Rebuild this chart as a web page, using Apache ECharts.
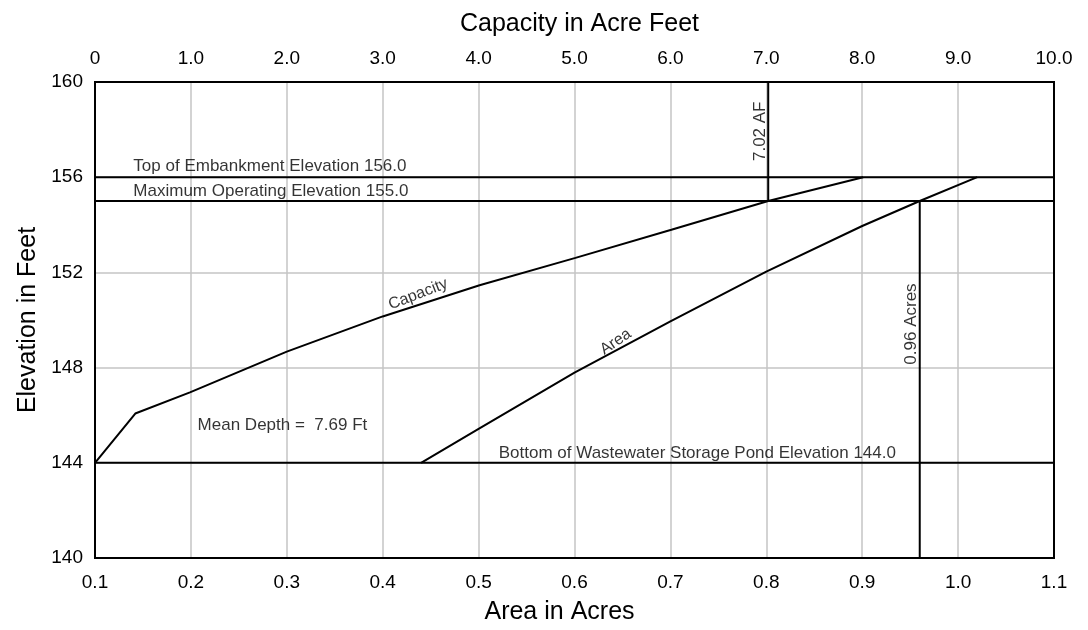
<!DOCTYPE html>
<html>
<head>
<meta charset="utf-8">
<script src="https://cdn.jsdelivr.net/npm/echarts@6/dist/echarts.min.js"></script>
<style>
  html, body { margin: 0; padding: 0; background: #fff; }
  #chart { width: 1088px; height: 630px; }
</style>
</head>
<body>
<div id="chart"></div>
<script>
// ---- Data ----
// Capacity curve (top axis, acre-feet) vs. elevation (ft)
const capacityElev = [144, 146.07, 146.96, 148.67, 150.15, 151.46, 152.61, 153.79, 155, 156];
const capacityAF   = [0,   0.42,   0.99,   2.0,    3.0,    4.01,   5.01,   6.01,   7.02, 8.01];
// Area curve (bottom axis, acres) vs. elevation (ft)
const areaElev  = [144,  145.43, 147.79, 149.94, 152.03, 153.95, 155,  156];
const areaAcres = [0.44, 0.5,    0.6,    0.7,    0.8,    0.9,    0.96, 1.02];
// Reference levels
const topEmbankmentElev = 156.0;
const maxOperatingElev = 155.0;
const pondBottomElev = 144.0;
const capacityAtMaxOp = 7.02;  // AF
const areaAtMaxOp = 0.96;      // acres
const meanDepth = 7.69;        // ft
// Axis ranges / ticks
const areaMin = 0.1, areaMax = 1.1, areaStep = 0.1;
const capMin = 0, capMax = 10, capStep = 1;
const elevMin = 140, elevMax = 160, elevStep = 4;

const FONT = '"Liberation Sans", Arial, Helvetica, sans-serif';

const pairs = (xs, ys) => xs.map((x, i) => [x, ys[i]]);
const blackLine = { color: '#000', width: 2 };

const chart = echarts.init(document.getElementById('chart'), null, { renderer: 'canvas' });

const noteStyle = { show: true, color: '#000', fontFamily: FONT, fontSize: 17 };

chart.setOption({
  animation: false,
  backgroundColor: '#fff',
  grid: {
    left: 95, right: 34, top: 82, bottom: 68,
    show: true, borderColor: '#000', borderWidth: 2, backgroundColor: 'transparent',
    z: 10
  },
  xAxis: [
    {
      type: 'value', position: 'bottom',
      min: areaMin, max: areaMax, interval: areaStep,
      name: 'Area in Acres', nameLocation: 'middle', nameGap: 42,
      nameTextStyle: { color: '#000', fontFamily: FONT, fontSize: 25, padding: [0, 30, 0, 0] },
      axisLine: { show: false }, axisTick: { show: false },
      axisLabel: { color: '#000', fontFamily: FONT, fontSize: 19, margin: 15,
        formatter: v => v.toFixed(1) },
      splitLine: { show: true, showMinLine: false, showMaxLine: false,
        lineStyle: { color: '#c4c4c4', width: 1.5 } }
    },
    {
      type: 'value', position: 'top',
      min: capMin, max: capMax, interval: capStep,
      name: 'Capacity in Acre Feet', nameLocation: 'middle', nameGap: 45,
      nameTextStyle: { color: '#000', fontFamily: FONT, fontSize: 25, padding: [0, 0, 0, 10] },
      axisLine: { show: false }, axisTick: { show: false },
      axisLabel: { color: '#000', fontFamily: FONT, fontSize: 19, margin: 14,
        formatter: v => (v === 0 ? '0' : v.toFixed(1)) },
      splitLine: { show: false }
    }
  ],
  yAxis: {
    type: 'value', min: elevMin, max: elevMax, interval: elevStep,
    name: 'Elevation in Feet', nameLocation: 'middle', nameGap: 48,
    nameTextStyle: { color: '#000', fontFamily: FONT, fontSize: 25 },
    axisLine: { show: false }, axisTick: { show: false },
    axisLabel: { color: '#000', fontFamily: FONT, fontSize: 19, margin: 12 },
    splitLine: { show: true, showMinLine: false, showMaxLine: false,
      lineStyle: { color: '#c4c4c4', width: 1.5 } }
  },
  series: [
    { name: 'Capacity', type: 'line', xAxisIndex: 1, symbol: 'none', lineStyle: blackLine,
      data: pairs(capacityAF, capacityElev), z: 5 },
    { name: 'Area', type: 'line', xAxisIndex: 0, symbol: 'none', lineStyle: blackLine,
      data: pairs(areaAcres, areaElev), z: 5 },
    { type: 'line', xAxisIndex: 0, symbol: 'none', lineStyle: blackLine,
      data: [[areaMin, topEmbankmentElev], [areaMax, topEmbankmentElev]] },
    { type: 'line', xAxisIndex: 0, symbol: 'none', lineStyle: blackLine,
      data: [[areaMin, maxOperatingElev], [areaMax, maxOperatingElev]] },
    { type: 'line', xAxisIndex: 0, symbol: 'none', lineStyle: blackLine,
      data: [[areaMin, pondBottomElev], [areaMax, pondBottomElev]] },
    { type: 'line', xAxisIndex: 1, symbol: 'none', lineStyle: blackLine,
      data: [[capacityAtMaxOp, maxOperatingElev], [capacityAtMaxOp, elevMax]] },
    { type: 'line', xAxisIndex: 0, symbol: 'none', lineStyle: blackLine,
      data: [[areaAtMaxOp, elevMin], [areaAtMaxOp, maxOperatingElev]] },
    // annotations anchored in area-axis units
    { type: 'scatter', xAxisIndex: 0, symbolSize: 0, silent: true, z: 6,
      data: [
        { value: [0.14, topEmbankmentElev],
          label: Object.assign({}, noteStyle, { position: 'right', distance: 0, offset: [0, -11],
            formatter: 'Top of Embankment Elevation ' + topEmbankmentElev.toFixed(1) }) },
        { value: [0.14, maxOperatingElev],
          label: Object.assign({}, noteStyle, { position: 'right', distance: 0, offset: [0, -10],
            formatter: 'Maximum Operating Elevation ' + maxOperatingElev.toFixed(1) }) },
        { value: [0.207, 145.58],
          label: Object.assign({}, noteStyle, { position: 'right', distance: 0,
            formatter: 'Mean Depth =  ' + meanDepth.toFixed(2) + ' Ft' }) },
        { value: [0.521, pondBottomElev],
          label: Object.assign({}, noteStyle, { position: 'right', distance: 0, offset: [0, -9],
            formatter: 'Bottom of Wastewater Storage Pond Elevation ' + pondBottomElev.toFixed(1) }) },
        { value: [areaAtMaxOp, 149.83],
          label: Object.assign({}, noteStyle, { position: 'inside', rotate: 90, offset: [0, -8],
            formatter: areaAtMaxOp.toFixed(2) + ' Acres' }) },
        { value: [0.643, 149.08],
          label: Object.assign({}, noteStyle, { position: 'inside', rotate: 34, fontSize: 16,
            formatter: 'Area' }) }
      ] },
    // annotations anchored in capacity-axis units
    { type: 'scatter', xAxisIndex: 1, symbolSize: 0, silent: true, z: 6,
      data: [
        { value: [capacityAtMaxOp, 157.93],
          label: Object.assign({}, noteStyle, { position: 'inside', rotate: 90, offset: [0, -8],
            formatter: capacityAtMaxOp.toFixed(2) + ' AF' }) },
        { value: [3.37, 151.08],
          label: Object.assign({}, noteStyle, { position: 'inside', rotate: 21, fontSize: 16,
            formatter: 'Capacity' }) }
      ] }
  ]
});
</script>
</body>
</html>
